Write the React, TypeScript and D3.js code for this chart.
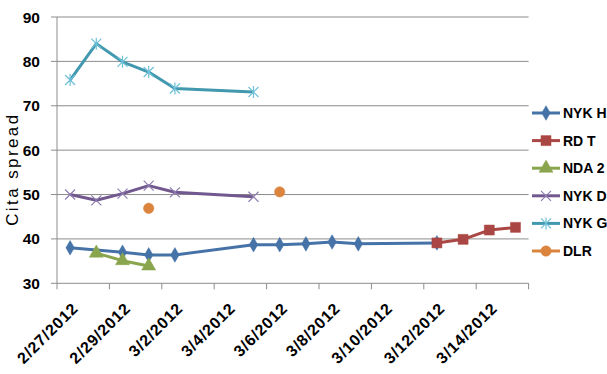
import React from 'react';
import * as d3 from 'd3';

const seriesNames = ['NYK H', 'RD T', 'NDA 2', 'NYK D', 'NYK G', 'DLR'];
const seriesColors = ['#4572A7', '#AA4643', '#89A54E', '#71588F', '#4198AF', '#DB843D'];
const markerColors = ['#4572A7', '#AA4643', '#89A54E', '#8E7CB0', '#6FC0D8', '#DB843D'];
const markerTypes = ['diamond', 'square', 'triangle', 'x', 'star', 'circle'];
const hasLine = [true, true, true, true, true, false];

const nykHDates = ['2/27/2012', '2/29/2012', '3/1/2012', '3/2/2012', '3/5/2012', '3/6/2012', '3/7/2012', '3/8/2012', '3/9/2012', '3/12/2012'];
const nykHValues = [38, 37, 36.4, 36.4, 38.7, 38.7, 38.9, 39.3, 38.9, 39.1];
const rdTDates = ['3/12/2012', '3/13/2012', '3/14/2012', '3/15/2012'];
const rdTValues = [39.1, 39.9, 42, 42.6];
const nda2Dates = ['2/28/2012', '2/29/2012', '3/1/2012'];
const nda2Values = [36.8, 35.1, 33.9];
const nykDDates = ['2/27/2012', '2/28/2012', '2/29/2012', '3/1/2012', '3/2/2012', '3/5/2012'];
const nykDValues = [50, 48.7, 50.2, 52, 50.5, 49.5];
const nykGDates = ['2/27/2012', '2/28/2012', '2/29/2012', '3/1/2012', '3/2/2012', '3/5/2012'];
const nykGValues = [75.8, 84, 79.9, 77.6, 73.9, 73.1];
const dlrDates = ['3/1/2012', '3/6/2012'];
const dlrValues = [46.9, 50.6];

const allDates = [nykHDates, rdTDates, nda2Dates, nykDDates, nykGDates, dlrDates];
const allValues = [nykHValues, rdTValues, nda2Values, nykDValues, nykGValues, dlrValues];

const yTicks = [30, 40, 50, 60, 70, 80, 90];
const axisStart = '2/27/2012';
const axisEnd = '3/16/2012';

const parse = d3.utcParse('%m/%d/%Y');
const fmt = d3.utcFormat('%-m/%-d/%Y');

const W = 607;
const H = 374;
const margin = { left: 57, right: 78.4, top: 17, bottom: 90.7 };
const font = '"Liberation Sans", Arial, sans-serif';

const Marker: React.FC<{ type: string; x: number; y: number; color: string }> = ({ type, x, y, color }) => {
  if (type === 'x') {
    const s = 5;
    return (
      <path d={`M${x - s},${y - s}L${x + s},${y + s}M${x - s},${y + s}L${x + s},${y - s}`} stroke={color} strokeWidth={1.2} fill="none" />
    );
  }
  if (type === 'star') {
    const s = 5;
    return (
      <path d={`M${x - s},${y - s}L${x + s},${y + s}M${x - s},${y + s}L${x + s},${y - s}M${x},${y - s - 1}L${x},${y + s + 1}`} stroke={color} strokeWidth={1.2} fill="none" />
    );
  }
  const sym = type === 'diamond' ? d3.symbolDiamond : type === 'square' ? d3.symbolSquare : type === 'triangle' ? d3.symbolTriangle : d3.symbolCircle;
  const size = type === 'diamond' ? 62 : type === 'square' ? 100 : type === 'triangle' ? 85 : 85;
  const path = d3.symbol().type(sym).size(size)() as string;
  return <path d={path} transform={`translate(${x},${y})`} fill={color} stroke={color} strokeWidth={0.5} />;
};

const App: React.FC = () => {
  const x0 = parse(axisStart) as Date;
  const x1 = parse(axisEnd) as Date;
  const x = d3.scaleUtc().domain([x0, x1]).range([margin.left, W - margin.right]);
  const y = d3.scaleLinear().domain([30, 90]).range([H - margin.bottom, margin.top]);
  const halfDay = (x(d3.utcDay.offset(x0, 1)) - x(x0)) / 2;
  const px = (s: string) => x(parse(s) as Date) + halfDay;

  const xTicks = d3.utcDay.range(x0, d3.utcDay.offset(x1, 1), 2);
  const labelDates = xTicks.slice(0, -1);

  const line = d3.line<[number, number]>().x(d => d[0]).y(d => d[1]);

  const plotRight = W - margin.right;
  const plotBottom = H - margin.bottom;

  return (
    <svg width={W} height={H} style={{ position: 'absolute', left: 0, top: 0, background: '#fff' }}>
      {/* gridlines */}
      {yTicks.slice(1).map(t => (
        <line key={t} x1={margin.left} x2={plotRight} y1={y(t)} y2={y(t)} stroke="#8c8c8c" strokeWidth={1} />
      ))}
      {/* y axis */}
      <line x1={margin.left} x2={margin.left} y1={margin.top} y2={plotBottom} stroke="#8c8c8c" />
      {yTicks.map(t => (
        <g key={t}>
          <line x1={margin.left - 6} x2={margin.left} y1={y(t)} y2={y(t)} stroke="#8c8c8c" />
          <text x={40} y={y(t)} dy="0.36em" textAnchor="end" fontFamily={font} fontWeight="bold" fontSize={15.5} fill="#000">
            {t}
          </text>
        </g>
      ))}
      {/* x axis */}
      <line x1={margin.left} x2={plotRight} y1={plotBottom} y2={plotBottom} stroke="#8c8c8c" />
      {xTicks.map(t => (
        <line key={+t} x1={x(t)} x2={x(t)} y1={plotBottom} y2={plotBottom + 6} stroke="#8c8c8c" />
      ))}
      {labelDates.map(t => (
        <text
          key={+t}
          transform={`translate(${x(t) + halfDay + 9},${plotBottom + 26}) rotate(-45)`}
          textAnchor="end"
          fontFamily={font}
          fontWeight="bold"
          fontSize={16}
          letterSpacing={0.8}
          fill="#000"
        >
          {fmt(t)}
        </text>
      ))}
      {/* y title */}
      <text
        transform={`translate(18,${(margin.top + plotBottom) / 2 + 19}) rotate(-90)`}
        textAnchor="middle"
        fontFamily={font}
        fontSize={17}
        letterSpacing={2.4}
        fill="#000"
      >
        Cita spread
      </text>
      {/* series */}
      {seriesNames.map((name, i) => {
        const pts: [number, number][] = allDates[i].map((d, j) => [px(d), y(allValues[i][j])]);
        return (
          <g key={name}>
            {hasLine[i] && (
              <path d={line(pts) as string} fill="none" stroke={seriesColors[i]} strokeWidth={3} strokeLinejoin="round" />
            )}
            {pts.map((p, j) => (
              <Marker key={j} type={markerTypes[i]} x={p[0]} y={p[1]} color={markerColors[i]} />
            ))}
          </g>
        );
      })}
      {/* legend */}
      {seriesNames.map((name, i) => {
        const ly = 113 + i * 27.6;
        return (
          <g key={name}>
            <line x1={532} x2={560} y1={ly} y2={ly} stroke={seriesColors[i]} strokeWidth={3} />
            <Marker type={markerTypes[i]} x={546} y={ly} color={markerColors[i]} />
            <text x={563} y={ly} dy="0.36em" fontFamily={font} fontWeight="bold" fontSize={14} fill="#000">
              {name}
            </text>
          </g>
        );
      })}
    </svg>
  );
};

export default App;
